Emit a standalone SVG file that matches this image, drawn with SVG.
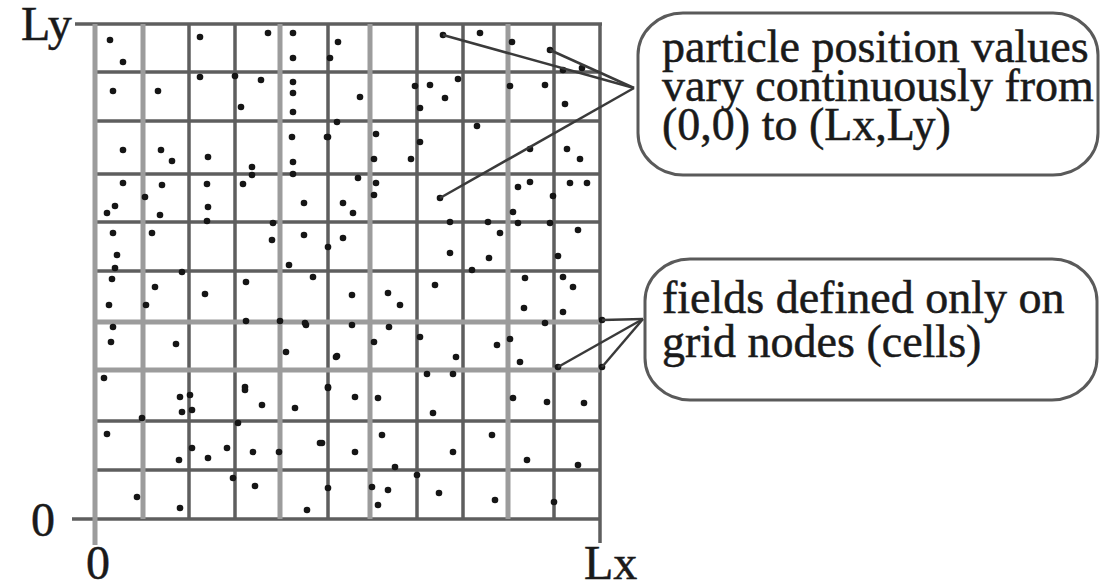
<svg xmlns="http://www.w3.org/2000/svg" width="1107" height="585" viewBox="0 0 1107 585">
<style>
.gd{stroke:#5e5e5e;stroke-width:3.5;fill:none}
.gl{stroke:#9c9c9c;stroke-width:5;fill:none}
.p{fill:#151515}
.lead{stroke:#3a3a3a;stroke-width:2.5;fill:none}
.box{fill:#fff;stroke:#5a5a5a;stroke-width:3}
.t{font-family:"Liberation Serif","Times New Roman",serif;font-size:46px;fill:#1a1a1a;stroke:#1a1a1a;stroke-width:0.5}
.ax{font-family:"Liberation Serif","Times New Roman",serif;font-size:48px;fill:#1a1a1a;stroke:#1a1a1a;stroke-width:0.5}
</style>
<rect width="1107" height="585" fill="#fff"/>
<g id="grid">
<g class="gd">
<line x1="75" y1="24" x2="602" y2="24"/>
<line x1="95" y1="72" x2="600" y2="72"/>
<line x1="95" y1="121" x2="600" y2="121"/>
<line x1="95" y1="174" x2="600" y2="174"/>
<line x1="95" y1="222" x2="600" y2="222"/>
<line x1="95" y1="271" x2="600" y2="271"/>
<line x1="95" y1="421" x2="600" y2="421"/>
<line x1="95" y1="470" x2="600" y2="470"/>
<line x1="72" y1="519" x2="600" y2="519"/>
<line x1="189" y1="24" x2="189" y2="519"/>
<line x1="235" y1="24" x2="235" y2="519"/>
<line x1="328" y1="24" x2="328" y2="519"/>
<line x1="417" y1="24" x2="417" y2="519"/>
<line x1="463" y1="24" x2="463" y2="519"/>
<line x1="554" y1="24" x2="554" y2="519"/>
<line x1="600" y1="24" x2="600" y2="543"/>
</g>
<g class="gl">
<line x1="95" y1="322" x2="600" y2="322"/>
<line x1="95" y1="370" x2="600" y2="370"/>
<line x1="95" y1="24" x2="95" y2="545"/>
<line x1="143" y1="24" x2="143" y2="519"/>
<line x1="280" y1="24" x2="280" y2="519"/>
<line x1="370" y1="24" x2="370" y2="519"/>
<line x1="508" y1="24" x2="508" y2="519"/>
</g>
</g>
<g id="axis-labels">
<text class="ax" x="21" y="40">Ly</text>
<text class="ax" x="31" y="536">0</text>
<text class="ax" x="86" y="579">0</text>
<text class="ax" x="584" y="579">Lx</text>
</g>
<g id="particles" class="p">
<circle cx="110" cy="40" r="3.3"/><circle cx="123" cy="62" r="3.3"/><circle cx="200" cy="37" r="3.3"/><circle cx="268" cy="33" r="3.3"/><circle cx="293" cy="33" r="3.3"/><circle cx="338" cy="42" r="3.3"/><circle cx="293" cy="58" r="3.3"/><circle cx="330" cy="58" r="3.3"/>
<circle cx="200" cy="77" r="3.3"/><circle cx="235" cy="76" r="3.3"/><circle cx="261" cy="80" r="3.3"/><circle cx="293" cy="82" r="3.3"/><circle cx="293" cy="93" r="3.3"/><circle cx="113" cy="91" r="3.3"/><circle cx="158" cy="91" r="3.3"/><circle cx="241" cy="107" r="3.3"/><circle cx="293" cy="112" r="3.3"/><circle cx="337" cy="122" r="3.3"/>
<circle cx="292" cy="137" r="3.3"/><circle cx="328" cy="137" r="3.3"/><circle cx="123" cy="150" r="3.3"/><circle cx="161" cy="150" r="3.3"/><circle cx="172" cy="161" r="3.3"/><circle cx="208" cy="157" r="3.3"/><circle cx="293" cy="162" r="3.3"/><circle cx="252" cy="167" r="3.3"/><circle cx="252" cy="175" r="3.3"/><circle cx="293" cy="174" r="3.3"/>
<circle cx="123" cy="183" r="3.3"/><circle cx="162" cy="185" r="3.3"/><circle cx="207" cy="184" r="3.3"/><circle cx="243" cy="184" r="3.3"/><circle cx="145" cy="197" r="3.3"/>
<circle cx="443" cy="35" r="3.3"/><circle cx="480" cy="33" r="3.3"/><circle cx="512" cy="42" r="3.3"/><circle cx="550" cy="50" r="3.3"/><circle cx="563" cy="70" r="3.3"/><circle cx="582" cy="68" r="3.3"/>
<circle cx="458" cy="79" r="3.3"/><circle cx="415" cy="86" r="3.3"/><circle cx="430" cy="85" r="3.3"/><circle cx="445" cy="98" r="3.3"/><circle cx="510" cy="86" r="3.3"/><circle cx="545" cy="85" r="3.3"/><circle cx="360" cy="97" r="3.3"/><circle cx="420" cy="108" r="3.3"/><circle cx="565" cy="104" r="3.3"/>
<circle cx="477" cy="126" r="3.3"/><circle cx="327" cy="137" r="3.3"/><circle cx="376" cy="134" r="3.3"/><circle cx="420" cy="142" r="3.3"/><circle cx="374" cy="159" r="3.3"/><circle cx="411" cy="159" r="3.3"/><circle cx="530" cy="149" r="3.3"/><circle cx="567" cy="149" r="3.3"/><circle cx="580" cy="159" r="3.3"/>
<circle cx="358" cy="178" r="3.3"/><circle cx="376" cy="183" r="3.3"/><circle cx="374" cy="195" r="3.3"/><circle cx="518" cy="187" r="3.3"/><circle cx="530" cy="182" r="3.3"/><circle cx="570" cy="183" r="3.3"/><circle cx="587" cy="183" r="3.3"/><circle cx="553" cy="196" r="3.3"/><circle cx="440" cy="198" r="3.3"/>
<circle cx="115" cy="206" r="3.3"/><circle cx="107" cy="213" r="3.3"/><circle cx="160" cy="215" r="3.3"/><circle cx="208" cy="207" r="3.3"/><circle cx="207" cy="221" r="3.3"/><circle cx="273" cy="223" r="3.3"/><circle cx="304" cy="203" r="3.3"/><circle cx="343" cy="203" r="3.3"/>
<circle cx="113" cy="233" r="3.3"/><circle cx="152" cy="233" r="3.3"/><circle cx="272" cy="240" r="3.3"/><circle cx="304" cy="235" r="3.3"/><circle cx="343" cy="238" r="3.3"/><circle cx="328" cy="247" r="3.3"/><circle cx="117" cy="255" r="3.3"/><circle cx="115" cy="268" r="3.3"/><circle cx="182" cy="272" r="3.3"/><circle cx="289" cy="265" r="3.3"/><circle cx="313" cy="277" r="3.3"/>
<circle cx="112" cy="279" r="3.3"/><circle cx="155" cy="287" r="3.3"/><circle cx="205" cy="294" r="3.3"/><circle cx="246" cy="282" r="3.3"/><circle cx="109" cy="305" r="3.3"/><circle cx="146" cy="305" r="3.3"/><circle cx="246" cy="321" r="3.3"/><circle cx="280" cy="321" r="3.3"/><circle cx="306" cy="325" r="3.3"/>
<circle cx="113" cy="327" r="3.3"/><circle cx="111" cy="342" r="3.3"/><circle cx="176" cy="344" r="3.3"/><circle cx="286" cy="352" r="3.3"/><circle cx="337" cy="356" r="3.3"/><circle cx="104" cy="378" r="3.3"/><circle cx="245" cy="387" r="3.3"/><circle cx="328" cy="387" r="3.3"/>
<circle cx="353" cy="213" r="3.3"/><circle cx="513" cy="212" r="3.3"/><circle cx="450" cy="222" r="3.3"/><circle cx="488" cy="222" r="3.3"/><circle cx="500" cy="233" r="3.3"/><circle cx="518" cy="223" r="3.3"/><circle cx="550" cy="223" r="3.3"/><circle cx="578" cy="230" r="3.3"/>
<circle cx="450" cy="253" r="3.3"/><circle cx="489" cy="258" r="3.3"/><circle cx="558" cy="256" r="3.3"/><circle cx="472" cy="270" r="3.3"/><circle cx="435" cy="285" r="3.3"/><circle cx="525" cy="278" r="3.3"/><circle cx="563" cy="277" r="3.3"/><circle cx="573" cy="287" r="3.3"/>
<circle cx="352" cy="295" r="3.3"/><circle cx="388" cy="293" r="3.3"/><circle cx="400" cy="305" r="3.3"/><circle cx="524" cy="308" r="3.3"/><circle cx="563" cy="312" r="3.3"/><circle cx="305" cy="323" r="3.3"/><circle cx="352" cy="325" r="3.3"/><circle cx="389" cy="327" r="3.3"/><circle cx="545" cy="323" r="3.3"/><circle cx="602" cy="320" r="3.3"/>
<circle cx="374" cy="342" r="3.3"/><circle cx="420" cy="337" r="3.3"/><circle cx="497" cy="345" r="3.3"/><circle cx="510" cy="339" r="3.3"/><circle cx="336" cy="357" r="3.3"/><circle cx="456" cy="357" r="3.3"/><circle cx="520" cy="362" r="3.3"/><circle cx="558" cy="367" r="3.3"/><circle cx="602" cy="367" r="3.3"/><circle cx="427" cy="374" r="3.3"/><circle cx="453" cy="374" r="3.3"/>
<circle cx="180" cy="397" r="3.3"/><circle cx="190" cy="395" r="3.3"/><circle cx="182" cy="412" r="3.3"/><circle cx="192" cy="410" r="3.3"/><circle cx="142" cy="418" r="3.3"/><circle cx="245" cy="390" r="3.3"/><circle cx="262" cy="405" r="3.3"/><circle cx="295" cy="408" r="3.3"/><circle cx="328" cy="388" r="3.3"/><circle cx="238" cy="423" r="3.3"/>
<circle cx="107" cy="434" r="3.3"/><circle cx="192" cy="448" r="3.3"/><circle cx="208" cy="458" r="3.3"/><circle cx="227" cy="448" r="3.3"/><circle cx="253" cy="452" r="3.3"/><circle cx="279" cy="452" r="3.3"/><circle cx="322" cy="443" r="3.3"/><circle cx="179" cy="460" r="3.3"/>
<circle cx="233" cy="478" r="3.3"/><circle cx="255" cy="486" r="3.3"/><circle cx="328" cy="488" r="3.3"/><circle cx="137" cy="497" r="3.3"/><circle cx="180" cy="508" r="3.3"/><circle cx="307" cy="510" r="3.3"/>
<circle cx="355" cy="397" r="3.3"/><circle cx="378" cy="398" r="3.3"/><circle cx="433" cy="413" r="3.3"/><circle cx="513" cy="398" r="3.3"/><circle cx="547" cy="402" r="3.3"/><circle cx="584" cy="403" r="3.3"/>
<circle cx="382" cy="435" r="3.3"/><circle cx="320" cy="443" r="3.3"/><circle cx="355" cy="452" r="3.3"/><circle cx="453" cy="452" r="3.3"/><circle cx="492" cy="435" r="3.3"/><circle cx="527" cy="460" r="3.3"/><circle cx="578" cy="465" r="3.3"/><circle cx="395" cy="467" r="3.3"/><circle cx="417" cy="475" r="3.3"/>
<circle cx="372" cy="487" r="3.3"/><circle cx="388" cy="490" r="3.3"/><circle cx="378" cy="505" r="3.3"/><circle cx="439" cy="493" r="3.3"/><circle cx="495" cy="500" r="3.3"/><circle cx="554" cy="502" r="3.3"/>
</g>
<g id="connectors">
<line class="lead" x1="443" y1="35" x2="634" y2="88"/>
<line class="lead" x1="550" y1="50" x2="634" y2="88"/>
<line class="lead" x1="440" y1="198" x2="634" y2="88"/>
<line class="lead" x1="602" y1="320" x2="643" y2="319"/>
<line class="lead" x1="558" y1="367" x2="643" y2="319"/>
<line class="lead" x1="602" y1="367" x2="643" y2="319"/>
</g>
<g id="callout-particles">
<rect class="box" x="638" y="13" width="460" height="162" rx="45" ry="42"/>
<text class="t" x="662" y="62">particle position values</text>
<text class="t" x="662" y="101">vary continuously from</text>
<text class="t" x="662" y="140">(0,0) to (Lx,Ly)</text>
</g>
<g id="callout-fields">
<rect class="box" x="645" y="259" width="452" height="141" rx="45" ry="42"/>
<text class="t" x="662" y="313">fields defined only on</text>
<text class="t" x="662" y="357">grid nodes (cells)</text>
</g>
</svg>
